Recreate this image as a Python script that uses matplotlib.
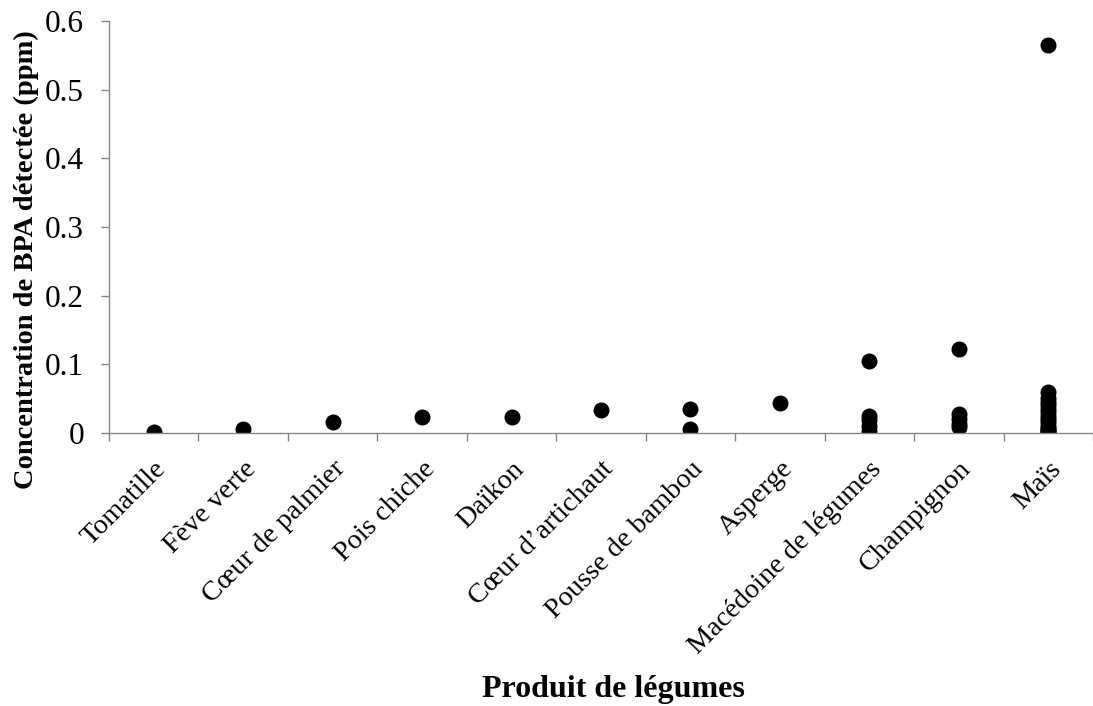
import matplotlib
matplotlib.use("Agg")
import matplotlib.pyplot as plt
import numpy as np

categories = ["Tomatille", "Fève verte", "Cœur de palmier", "Pois chiche", "Daïkon",
              "Cœur d\u2019artichaut", "Pousse de bambou", "Asperge",
              "Macédoine de légumes", "Champignon", "Maïs"]
values = [
    [0.001],
    [0.005],
    [0.016],
    [0.023],
    [0.023],
    [0.033],
    [0.034, 0.005],
    [0.044],
    [0.105, 0.025, 0.018, 0.010, 0.003],
    [0.122, 0.028, 0.020, 0.013, 0.008],
    [0.565, 0.060, 0.050, 0.045, 0.040, 0.035, 0.030, 0.025, 0.020, 0.015,
     0.010, 0.007, 0.004, 0.002, 0.001],
]
yticks = [0, 0.1, 0.2, 0.3, 0.4, 0.5, 0.6]
ytick_labels = ["0", "0.1", "0.2", "0.3", "0.4", "0.5", "0.6"]

plt.rcParams['font.family'] = ['Liberation Serif', 'DejaVu Serif']

fig = plt.figure(figsize=(10.93, 7.06), dpi=100)
ax = fig.add_axes([0.0997, 0.387, 0.9003, 0.583])

for i, vals in enumerate(values):
    ax.plot([i] * len(vals), vals, 'o', color='black', markersize=10.5, linestyle='none')

ax.set_xlim(-0.5, len(categories) - 0.5)
ax.set_ylim(0, 0.6)
ax.set_yticks(yticks)
ax.set_yticklabels(ytick_labels, fontsize=22.5)
ax.set_xticks(np.arange(len(categories)))
ax.set_xticklabels(categories, rotation=45, ha='right', rotation_mode='anchor', fontsize=20.3)
ax.tick_params(axis='x', length=0, pad=17)
ax.set_xticks(np.arange(-0.5, len(categories) + 0.5, 1), minor=True)
ax.tick_params(axis='x', which='minor', length=6, color='#868686', width=1)
ax.tick_params(axis='y', length=6, color='#868686', width=1, pad=12)

for s in ['top', 'right']:
    ax.spines[s].set_visible(False)
for s in ['left', 'bottom']:
    ax.spines[s].set_color('#868686')
    ax.spines[s].set_linewidth(1)

fig.text(0.024, 0.632, "Concentration de BPA détectée (ppm)", rotation=90,
         ha='center', va='center', fontsize=20.5, fontweight='bold')
fig.text(0.561, 0.023, "Produit de légumes", ha='center', va='center',
         fontsize=23, fontweight='bold')

fig.savefig("out.png", dpi=100)
